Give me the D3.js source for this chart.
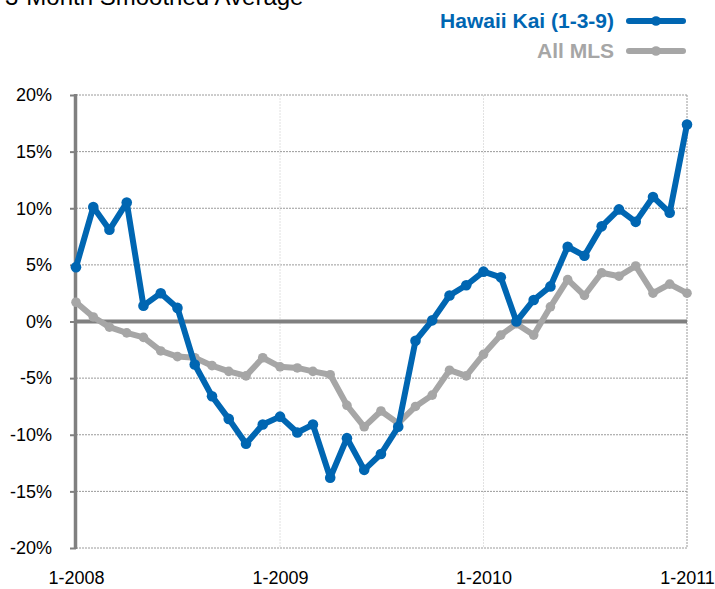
<!DOCTYPE html>
<html>
<head>
<meta charset="utf-8">
<script src="https://cdn.jsdelivr.net/npm/d3@7"></script>
<style>
  html, body { margin: 0; padding: 0; background: #fff; }
  svg { display: block; font-family: "Liberation Sans", Arial, sans-serif; }
</style>
</head>
<body>
<svg id="chart" width="715" height="589"></svg>
<script>
const title = "3-Month Smoothed Average";
const months = ["2008-01","2008-02","2008-03","2008-04","2008-05","2008-06","2008-07","2008-08","2008-09","2008-10","2008-11","2008-12",
  "2009-01","2009-02","2009-03","2009-04","2009-05","2009-06","2009-07","2009-08","2009-09","2009-10","2009-11","2009-12",
  "2010-01","2010-02","2010-03","2010-04","2010-05","2010-06","2010-07","2010-08","2010-09","2010-10","2010-11","2010-12",
  "2011-01"];
const hawaiiKai = [4.8,10.1,8.1,10.5,1.4,2.5,1.2,-3.8,-6.6,-8.6,-10.8,-9.1,-8.4,-9.8,-9.1,-13.8,-10.3,-13.1,-11.7,-9.3,-1.7,0.1,2.3,3.2,4.4,3.9,0.0,1.9,3.1,6.6,5.8,8.4,9.9,8.8,11.0,9.6,17.4];
const allMLS = [1.7,0.4,-0.5,-1.0,-1.4,-2.6,-3.1,-3.2,-3.9,-4.4,-4.8,-3.2,-4.0,-4.1,-4.4,-4.7,-7.4,-9.3,-7.9,-9.0,-7.5,-6.5,-4.3,-4.8,-2.9,-1.2,-0.2,-1.2,1.3,3.7,2.3,4.3,4.0,4.9,2.5,3.3,2.5];
const seriesNames = ["Hawaii Kai (1-3-9)", "All MLS"];
const xTickMonths = ["2008-01","2009-01","2010-01","2011-01"];
const xTickLabels = ["1-2008","1-2009","1-2010","1-2011"];
const yTicks = [-20,-15,-10,-5,0,5,10,15,20];

const blue = "#0066b2", gray = "#a6a6a6", axisGray = "#808080";
const svg = d3.select("#chart");
const W = 715, H = 589;
const m = {left: 76, right: 28, top: 95, bottom: 41};
const parse = d3.timeParse("%Y-%m");
const dates = months.map(parse);

const x = d3.scaleTime().domain([dates[0], dates[dates.length-1]]).range([m.left, W - m.right]);
const y = d3.scaleLinear().domain([-20, 20]).range([H - m.bottom, m.top]);

// title (partially cut off at top, as in the reference)
svg.append("text").attr("x", 5).attr("y", 5).attr("font-size", 24).attr("fill", "#000").text(title);

// horizontal dotted grid
svg.append("g").selectAll("line").data(yTicks.filter(d => d !== 0)).join("line")
  .attr("x1", m.left).attr("x2", W - m.right)
  .attr("y1", d => y(d)).attr("y2", d => y(d))
  .attr("stroke", "#9a9a9a").attr("stroke-width", 1).attr("stroke-dasharray", "2,1");

// vertical grid
const xt = xTickMonths.map(parse);
svg.append("g").selectAll("line").data(xt.slice(1)).join("line")
  .attr("x1", d => x(d)).attr("x2", d => x(d))
  .attr("y1", m.top).attr("y2", H - m.bottom)
  .attr("stroke", (d, i) => i === xt.length - 2 ? "#9a9a9a" : "#e2e2e2")
  .attr("stroke-width", 1).attr("stroke-dasharray", "2,1");

// y axis
const yAxis = d3.axisLeft(y).tickValues(yTicks).tickSize(6).tickPadding(18).tickFormat(d => d + "%");
const gy = svg.append("g").attr("transform", `translate(${m.left},0)`).call(yAxis);
gy.select(".domain").remove();
gy.selectAll(".tick line").attr("stroke", axisGray).attr("stroke-width", 2);
gy.selectAll(".tick text").attr("font-size", 18).attr("fill", "#000")
  .attr("font-family", "Liberation Sans, Arial, sans-serif");
svg.append("line").attr("x1", m.left - 0.5).attr("x2", m.left - 0.5)
  .attr("y1", m.top - 1).attr("y2", H - m.bottom + 1)
  .attr("stroke", axisGray).attr("stroke-width", 3.5);

// zero line
svg.append("line").attr("x1", m.left).attr("x2", W - m.right)
  .attr("y1", y(0)).attr("y2", y(0)).attr("stroke", axisGray).attr("stroke-width", 4);

// x axis labels
const xAxis = d3.axisBottom(x).tickValues(xt).tickSize(0).tickPadding(0)
  .tickFormat((d, i) => xTickLabels[i]);
const gx = svg.append("g").attr("transform", `translate(0,${H - m.bottom})`).call(xAxis);
gx.select(".domain").remove();
gx.selectAll(".tick text").attr("font-size", 18).attr("fill", "#000")
  .attr("font-family", "Liberation Sans, Arial, sans-serif").attr("dy", "2.0em");

// series
const line = d3.line().x((d, i) => x(dates[i])).y(d => y(d));
function drawSeries(vals, color, r) {
  svg.append("path").datum(vals).attr("d", line).attr("fill", "none")
    .attr("stroke", color).attr("stroke-width", 6).attr("stroke-linejoin", "round");
  svg.append("g").selectAll("circle").data(vals).join("circle")
    .attr("cx", (d, i) => x(dates[i])).attr("cy", d => y(d)).attr("r", r).attr("fill", color);
}
drawSeries(allMLS, gray, 4.8);
drawSeries(hawaiiKai, blue, 5.3);

// legend
const legend = [{name: seriesNames[0], color: blue, y: 21}, {name: seriesNames[1], color: gray, y: 51}];
const lg = svg.append("g").selectAll("g").data(legend).join("g");
lg.append("text").attr("x", 614).attr("y", d => d.y + 7).attr("text-anchor", "end")
  .attr("font-size", 21).attr("font-weight", "bold").attr("fill", d => d.color).text(d => d.name);
lg.append("line").attr("x1", 629).attr("x2", 683).attr("y1", d => d.y).attr("y2", d => d.y)
  .attr("stroke", d => d.color).attr("stroke-width", 6).attr("stroke-linecap", "round");
lg.append("circle").attr("cx", 656).attr("cy", d => d.y).attr("r", 4.8).attr("fill", d => d.color);
</script>
</body>
</html>
